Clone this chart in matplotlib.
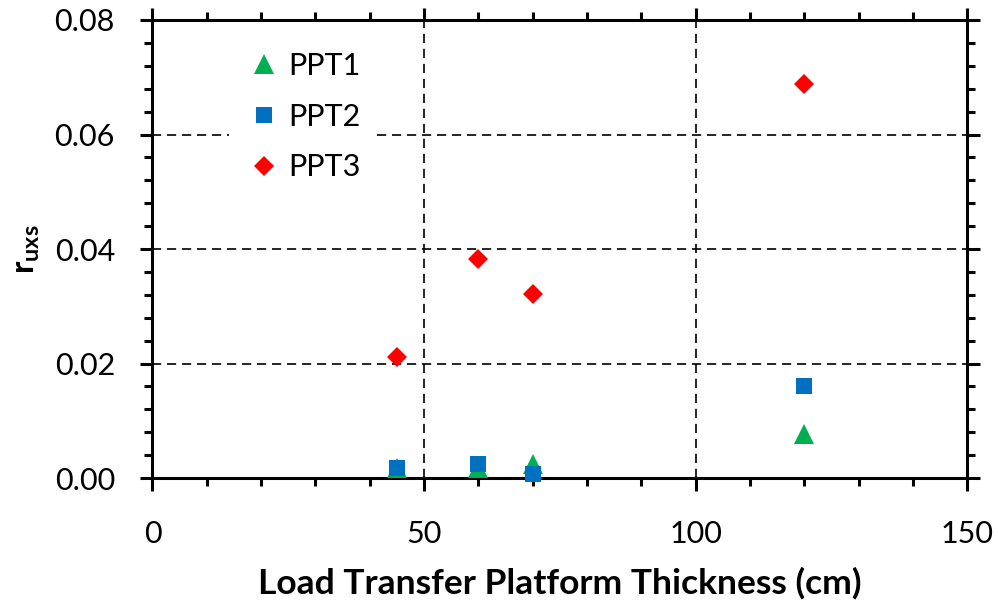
import numpy as np
import matplotlib
matplotlib.use('Agg')
from matplotlib import pyplot as plt
from matplotlib.ticker import MultipleLocator, FormatStrFormatter

plt.rcParams['font.family'] = ['Lato', 'DejaVu Sans']
plt.rcParams['mathtext.fontset'] = 'custom'
plt.rcParams['mathtext.rm'] = 'Lato'
plt.rcParams['mathtext.bf'] = 'Lato:bold'

### Data
thickness = [45, 60, 70, 120]
ppt1 = [0.0018, 0.0018, 0.0025, 0.0077]
ppt2 = [0.0018, 0.0025, 0.00065, 0.0161]
ppt3 = [0.0211, 0.0383, 0.0321, 0.0689]

fig = plt.figure(figsize=(9.98, 6.06), dpi=100)
ax = fig.add_axes([0.1528, 0.2112, 0.8164, 0.7558])

ax.plot(thickness, ppt1, '^', color='#00B050', markersize=14, markeredgewidth=0,
        label='PPT1', clip_on=False, zorder=5)
ax.plot(thickness, ppt2, 's', color='#0070C0', markersize=11.5, markeredgewidth=0,
        label='PPT2', clip_on=False, zorder=6)
ax.plot(thickness, ppt3, 'D', color='#FF0000', markersize=9.8, markeredgewidth=0,
        label='PPT3', clip_on=False, zorder=7)

ax.set_xlim(0, 150)
ax.set_ylim(0, 0.08)
ax.xaxis.set_major_locator(MultipleLocator(50))
ax.xaxis.set_minor_locator(MultipleLocator(10))
ax.yaxis.set_major_locator(MultipleLocator(0.02))
ax.yaxis.set_minor_locator(MultipleLocator(0.004))
ax.yaxis.set_major_formatter(FormatStrFormatter('%.2f'))

ax.grid(True, which='major', color='black', linewidth=1.2, linestyle=(0, (5.5, 3.5)))
ax.set_axisbelow(True)
for s in ax.spines.values():
    s.set_linewidth(2.2)
ax.tick_params(which='both', direction='out', top=True, right=True, width=2.2,
               labelsize=22)
ax.tick_params(which='major', length=9)
ax.tick_params(which='minor', length=6)
ax.tick_params(axis='y', which='major', pad=18)
ax.tick_params(axis='x', which='major', pad=21)

ax.set_xlabel('Load Transfer Platform Thickness (cm)', fontsize=25.5, fontweight='bold', labelpad=14)
ax.set_ylabel(r'$\mathbf{r_{uxs}}$', fontsize=24, labelpad=9)

leg = ax.legend(loc='upper left', bbox_to_anchor=(0.075, 0.99), fontsize=22,
                frameon=True, fancybox=False, framealpha=1, edgecolor='white',
                handletextpad=0.05, labelspacing=0.74, borderpad=0.4, handlelength=1.5)
leg.get_frame().set_linewidth(0)

plt.savefig('out.png', dpi=100)
